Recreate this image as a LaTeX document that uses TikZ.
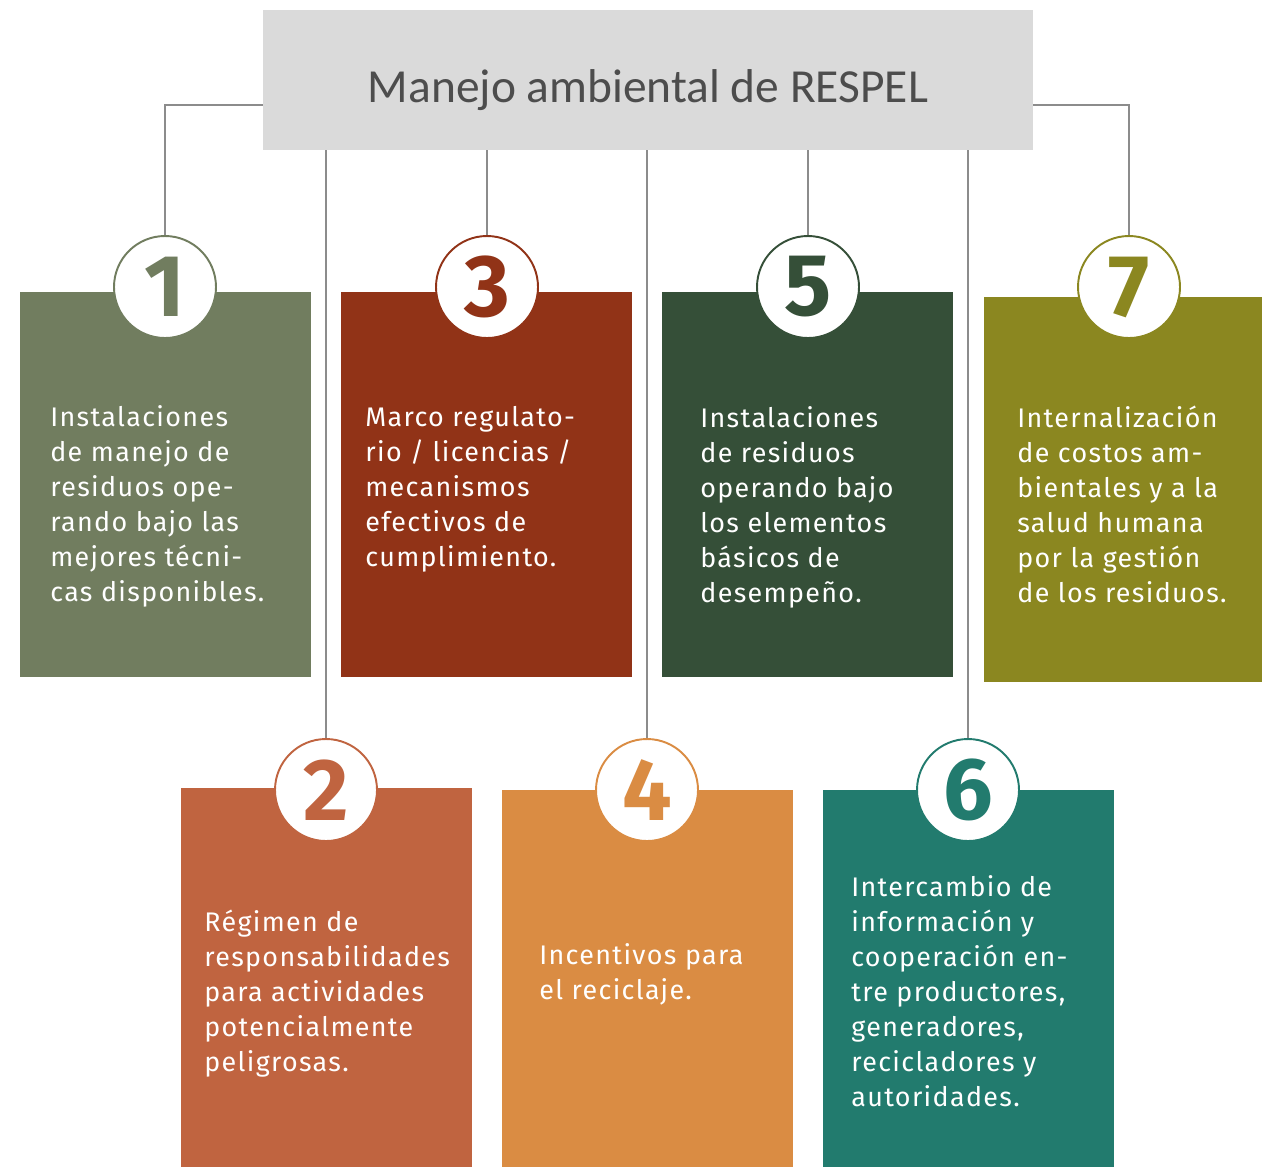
\documentclass[tikz,border=0pt]{standalone}
\usepackage{fontspec}
\usepackage{tikz}
\usepackage{xcolor}
\setmainfont{Fira Sans}
\newfontfamily\titlefont{Carlito}
\newfontfamily\bodyfont{Fira Sans}[LetterSpace=5.0]
\usetikzlibrary{calc}
\definecolor{titlegray}{RGB}{218,218,218}
\definecolor{titletext}{RGB}{77,77,77}
\definecolor{linegray}{RGB}{140,140,140}
\definecolor{sage}{RGB}{113,125,95}
\definecolor{terracota}{RGB}{192,100,64}
\definecolor{oxido}{RGB}{145,51,23}
\definecolor{naranja}{RGB}{218,140,67}
\definecolor{bosque}{RGB}{53,79,56}
\definecolor{petroleo}{RGB}{34,123,110}
\definecolor{oliva}{RGB}{139,135,32}

\begin{document}
\begin{tikzpicture}[
    x=0.2mm, y=-0.2mm, % one unit = one pixel of the layout
    title/.style={
        rectangle,
        fill=titlegray,
        minimum width=154mm,
        minimum height=28mm,
        text height=9mm,
        text depth=0pt,
        text=titletext,
        font=\titlefont\fontsize{27}{32}\selectfont
    },
    box/.style={
        rectangle,
        anchor=north west,
        fill=#1,
        inner sep=0pt,
        minimum width=58.2mm
    },
    numcircle/.style={
        circle,
        fill=white,
        draw=#1,
        line width=1.1pt,
        minimum size=20.4mm,
        inner sep=0pt,
        text=#1,
        font=\bfseries\fontsize{50}{50}\selectfont
    },
    boxtext/.style={
        anchor=north west,
        align=left,
        inner sep=0pt,
        text=white,
        font=\bodyfont\fontsize{15.3}{19.9}\selectfont
    },
    conn/.style={linegray, line width=0.6pt}
]
\useasboundingbox (0,0) rectangle (1262,1167);

% ========== titulo ==========
\node[title] (title) at (648,80) {Manejo ambiental de RESPEL};

% ========== cajas superiores ==========
\node[box=sage, minimum height=77mm] (b1) at (20,292) {};
\node[box=oxido, minimum height=77mm] (b3) at (341,292) {};
\node[box=bosque, minimum height=77mm] (b5) at (662,292) {};
\node[box=oliva, minimum height=77mm, minimum width=55.6mm] (b7) at (984,297) {};

% ========== cajas inferiores ==========
\node[box=terracota, minimum height=75.8mm] (b2) at (181,788) {};
\node[box=naranja, minimum height=75.4mm] (b4) at (502,790) {};
\node[box=petroleo, minimum height=75.4mm] (b6) at (823,790) {};

% ========== circulos numerados ==========
\node[numcircle=sage] (n1) at (165,287) {1};
\node[numcircle=oxido] (n3) at (487,287) {3};
\node[numcircle=bosque] (n5) at (808,287) {5};
\node[numcircle=oliva] (n7) at (1129,287) {7};
\node[numcircle=terracota] (n2) at (326,790) {2};
\node[numcircle=naranja] (n4) at (647,790) {4};
\node[numcircle=petroleo] (n6) at (968,790) {6};

% ========== conectores ==========
\draw[conn] ($(title.west)+(0,25)$) -| (n1.north);
\draw[conn] ($(title.east)+(0,25)$) -| (n7.north);
\draw[conn] (n2.north |- title.south) -- (n2.north);
\draw[conn] (n3.north |- title.south) -- (n3.north);
\draw[conn] (n4.north |- title.south) -- (n4.north);
\draw[conn] (n5.north |- title.south) -- (n5.north);
\draw[conn] (n6.north |- title.south) -- (n6.north);

% ========== textos ==========
\node[boxtext] (t1) at (50,405) {Instalaciones\\de manejo de\\residuos ope-\\rando bajo las\\mejores técni-\\cas disponibles.};
\node[boxtext] (t3) at (365,406) {Marco regulato-\\rio / licencias /\\mecanismos\\efectivos de\\cumplimiento.};
\node[boxtext] (t5) at (700,406) {Instalaciones\\de residuos\\operando bajo\\los elementos\\básicos de\\desempeño.};
\node[boxtext] (t7) at (1017,406) {Internalización\\de costos am-\\bientales y a la\\salud humana\\por la gestión\\de los residuos.};
\node[boxtext] (t2) at (204,910) {Régimen de\\responsabilidades\\para actividades\\potencialmente\\peligrosas.};
\node[boxtext] (t4) at (539,943) {Incentivos para\\el reciclaje.};
\node[boxtext] (t6) at (851,875) {Intercambio de\\información y\\cooperación en-\\tre productores,\\generadores,\\recicladores y\\autoridades.};

\end{tikzpicture}
\end{document}
